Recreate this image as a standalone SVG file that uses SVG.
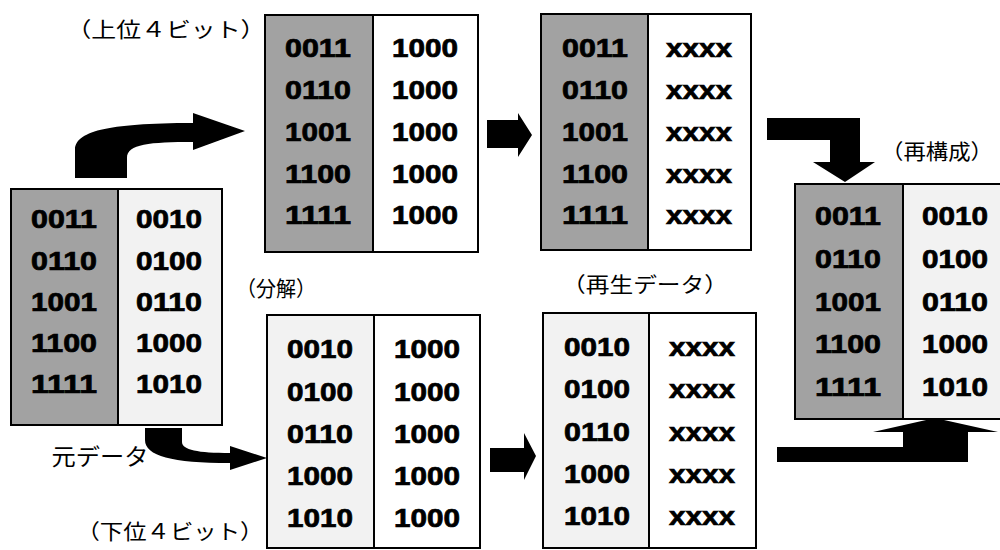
<svg xmlns="http://www.w3.org/2000/svg" width="1000" height="550" viewBox="0 0 1000 550">
<style>
.g{fill:#a2a2a2}
.l{fill:#f2f2f2}
.w{fill:#ffffff}
.o{fill:none;stroke:#000;stroke-width:2}
.dv{stroke:#000;stroke-width:2}
.d{font-family:"Liberation Sans",Arial,sans-serif;font-weight:bold;font-size:25px;text-anchor:middle;fill:#000;stroke:#000;stroke-width:0.7}
.h{fill:#000}
.lb{font-family:"Noto Sans CJK JP","Liberation Serif",serif;font-size:21px;text-anchor:middle;fill:#000}
.ar{fill:#000}
</style>
<rect width="1000" height="550" fill="#fff"/>

<g id="original">
<rect class="g" x="11" y="189" width="107" height="236"/>
<rect class="l" x="118" y="189" width="104" height="236"/>
<rect class="o" x="11" y="189" width="211" height="236"/>
<line class="dv" x1="118" y1="189" x2="118" y2="425"/>
<g class="d h">
<text x="64" y="228" textLength="66" lengthAdjust="spacingAndGlyphs">0011</text>
<text x="64" y="270" textLength="66" lengthAdjust="spacingAndGlyphs">0110</text>
<text x="64" y="311" textLength="66" lengthAdjust="spacingAndGlyphs">1001</text>
<text x="64" y="352" textLength="66" lengthAdjust="spacingAndGlyphs">1100</text>
<text x="64" y="393" textLength="66" lengthAdjust="spacingAndGlyphs">1111</text>
</g>
<g class="d">
<text x="169" y="228" textLength="66" lengthAdjust="spacingAndGlyphs">0010</text>
<text x="169" y="270" textLength="66" lengthAdjust="spacingAndGlyphs">0100</text>
<text x="169" y="311" textLength="66" lengthAdjust="spacingAndGlyphs">0110</text>
<text x="169" y="352" textLength="66" lengthAdjust="spacingAndGlyphs">1000</text>
<text x="169" y="393" textLength="66" lengthAdjust="spacingAndGlyphs">1010</text>
</g>
</g>

<g id="upper4">
<rect class="g" x="265" y="15" width="108" height="237"/>
<rect class="w" x="373" y="15" width="105" height="237"/>
<rect class="o" x="265" y="15" width="213" height="237"/>
<line class="dv" x1="373" y1="15" x2="373" y2="252"/>
<g class="d h">
<text x="318" y="57" textLength="66" lengthAdjust="spacingAndGlyphs">0011</text>
<text x="318" y="99" textLength="66" lengthAdjust="spacingAndGlyphs">0110</text>
<text x="318" y="141" textLength="66" lengthAdjust="spacingAndGlyphs">1001</text>
<text x="318" y="183" textLength="66" lengthAdjust="spacingAndGlyphs">1100</text>
<text x="318" y="224" textLength="66" lengthAdjust="spacingAndGlyphs">1111</text>
</g>
<g class="d">
<text x="425" y="57" textLength="66" lengthAdjust="spacingAndGlyphs">1000</text>
<text x="425" y="99" textLength="66" lengthAdjust="spacingAndGlyphs">1000</text>
<text x="425" y="141" textLength="66" lengthAdjust="spacingAndGlyphs">1000</text>
<text x="425" y="183" textLength="66" lengthAdjust="spacingAndGlyphs">1000</text>
<text x="425" y="224" textLength="66" lengthAdjust="spacingAndGlyphs">1000</text>
</g>
</g>

<g id="upper4-restored">
<rect class="g" x="541" y="14" width="107" height="236"/>
<rect class="w" x="648" y="14" width="103" height="236"/>
<rect class="o" x="541" y="14" width="210" height="236"/>
<line class="dv" x1="648" y1="14" x2="648" y2="250"/>
<g class="d h">
<text x="595" y="57" textLength="66" lengthAdjust="spacingAndGlyphs">0011</text>
<text x="595" y="99" textLength="66" lengthAdjust="spacingAndGlyphs">0110</text>
<text x="595" y="141" textLength="66" lengthAdjust="spacingAndGlyphs">1001</text>
<text x="595" y="183" textLength="66" lengthAdjust="spacingAndGlyphs">1100</text>
<text x="595" y="224" textLength="66" lengthAdjust="spacingAndGlyphs">1111</text>
</g>
<g class="d">
<text x="699" y="57" textLength="66" lengthAdjust="spacingAndGlyphs">xxxx</text>
<text x="699" y="99" textLength="66" lengthAdjust="spacingAndGlyphs">xxxx</text>
<text x="699" y="141" textLength="66" lengthAdjust="spacingAndGlyphs">xxxx</text>
<text x="699" y="183" textLength="66" lengthAdjust="spacingAndGlyphs">xxxx</text>
<text x="699" y="224" textLength="66" lengthAdjust="spacingAndGlyphs">xxxx</text>
</g>
</g>

<g id="lower4">
<rect class="l" x="267" y="315" width="107" height="233"/>
<rect class="w" x="374" y="315" width="106" height="233"/>
<rect class="o" x="267" y="315" width="213" height="233"/>
<line class="dv" x1="374" y1="315" x2="374" y2="548"/>
<g class="d">
<text x="320" y="358" textLength="66" lengthAdjust="spacingAndGlyphs">0010</text>
<text x="320" y="401" textLength="66" lengthAdjust="spacingAndGlyphs">0100</text>
<text x="320" y="443" textLength="66" lengthAdjust="spacingAndGlyphs">0110</text>
<text x="320" y="485" textLength="66" lengthAdjust="spacingAndGlyphs">1000</text>
<text x="320" y="527" textLength="66" lengthAdjust="spacingAndGlyphs">1010</text>
<text x="427" y="358" textLength="66" lengthAdjust="spacingAndGlyphs">1000</text>
<text x="427" y="401" textLength="66" lengthAdjust="spacingAndGlyphs">1000</text>
<text x="427" y="443" textLength="66" lengthAdjust="spacingAndGlyphs">1000</text>
<text x="427" y="485" textLength="66" lengthAdjust="spacingAndGlyphs">1000</text>
<text x="427" y="527" textLength="66" lengthAdjust="spacingAndGlyphs">1000</text>
</g>
</g>

<g id="lower4-restored">
<rect class="l" x="543" y="313" width="106" height="235"/>
<rect class="w" x="649" y="313" width="107" height="235"/>
<rect class="o" x="543" y="313" width="213" height="235"/>
<line class="dv" x1="649" y1="313" x2="649" y2="548"/>
<g class="d">
<text x="597" y="356" textLength="66" lengthAdjust="spacingAndGlyphs">0010</text>
<text x="597" y="398" textLength="66" lengthAdjust="spacingAndGlyphs">0100</text>
<text x="597" y="441" textLength="66" lengthAdjust="spacingAndGlyphs">0110</text>
<text x="597" y="483" textLength="66" lengthAdjust="spacingAndGlyphs">1000</text>
<text x="597" y="525" textLength="66" lengthAdjust="spacingAndGlyphs">1010</text>
<text x="702" y="356" textLength="66" lengthAdjust="spacingAndGlyphs">xxxx</text>
<text x="702" y="398" textLength="66" lengthAdjust="spacingAndGlyphs">xxxx</text>
<text x="702" y="441" textLength="66" lengthAdjust="spacingAndGlyphs">xxxx</text>
<text x="702" y="483" textLength="66" lengthAdjust="spacingAndGlyphs">xxxx</text>
<text x="702" y="525" textLength="66" lengthAdjust="spacingAndGlyphs">xxxx</text>
</g>
</g>

<g id="reconstructed">
<rect class="g" x="795" y="184" width="108" height="235"/>
<rect class="l" x="903" y="184" width="100" height="235"/>
<rect class="o" x="795" y="184" width="210" height="235"/>
<line class="dv" x1="903" y1="184" x2="903" y2="419"/>
<g class="d h">
<text x="848" y="225" textLength="66" lengthAdjust="spacingAndGlyphs">0011</text>
<text x="848" y="268" textLength="66" lengthAdjust="spacingAndGlyphs">0110</text>
<text x="848" y="311" textLength="66" lengthAdjust="spacingAndGlyphs">1001</text>
<text x="848" y="353" textLength="66" lengthAdjust="spacingAndGlyphs">1100</text>
<text x="848" y="396" textLength="66" lengthAdjust="spacingAndGlyphs">1111</text>
</g>
<g class="d">
<text x="955" y="225" textLength="66" lengthAdjust="spacingAndGlyphs">0010</text>
<text x="955" y="268" textLength="66" lengthAdjust="spacingAndGlyphs">0100</text>
<text x="955" y="311" textLength="66" lengthAdjust="spacingAndGlyphs">0110</text>
<text x="955" y="353" textLength="66" lengthAdjust="spacingAndGlyphs">1000</text>
<text x="955" y="396" textLength="66" lengthAdjust="spacingAndGlyphs">1010</text>
</g>
</g>

<g id="connectors">
<path class="ar" d="M75,178 L75,150 C75,132 105,123 193,123 L193,113 L245,131 L193,150 L193,142 C150,142 127,144 127,158 L127,178 Z"/>
<polygon class="ar" points="487,120 518,120 518,113 532,135 518,157 518,148 487,148"/>
<polygon class="ar" points="767,118 860,118 860,162 875,162 845,182 813,162 830,162 830,140 767,140"/>
<path class="ar" d="M145,428 L182,428 L182,442 C182,450 198,453 230,453 L230,446 L267,458 L230,470 L230,463 C172,463 145,456 145,440 Z"/>
<polygon class="ar" points="490,448 524,448 524,433 536,456 524,480 524,472 490,472"/>
<polygon class="ar" points="777,447 903,447 903,432 873,432 935,418 998,432 968,432 968,462 777,462"/>
</g>

<g id="labels">
<text class="lb" x="166" y="37" textLength="199" lengthAdjust="spacingAndGlyphs">（上位４ビット）</text>
<text class="lb" x="276" y="296" textLength="80" lengthAdjust="spacingAndGlyphs">（分解）</text>
<text class="lb" x="645" y="292" textLength="166" lengthAdjust="spacingAndGlyphs">（再生データ）</text>
<text class="lb" x="937" y="159" textLength="112" lengthAdjust="spacingAndGlyphs">（再構成）</text>
<text class="lb" x="100" y="465" style="font-size:23px" textLength="97" lengthAdjust="spacingAndGlyphs">元データ</text>
<text class="lb" x="170" y="539" textLength="187" lengthAdjust="spacingAndGlyphs">（下位４ビット）</text>
</g>
</svg>
